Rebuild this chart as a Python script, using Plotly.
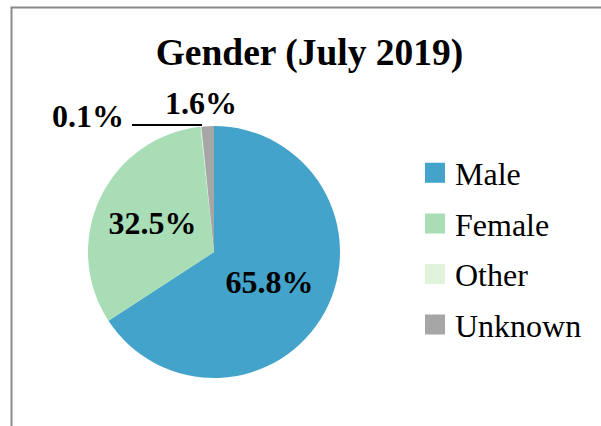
import plotly.graph_objects as go

categories = ["Male", "Female", "Other", "Unknown"]
values = [65.8, 32.5, 0.1, 1.6]
colors = ["#43A3CB", "#A8DDB5", "#E0F3DB", "#A6A6A6"]
title_text = "Gender (July 2019)"

W, H = 601, 426
FONT = "Liberation Serif, Times New Roman, serif"

def px(x):
    return x / W

def py(y):
    return 1 - y / H

inside = [v >= 10 for v in values]
fig = go.Figure()
fig.add_trace(go.Pie(
    labels=categories,
    values=values,
    marker=dict(colors=colors, line=dict(width=0)),
    sort=False,
    direction="clockwise",
    rotation=0,
    texttemplate=["%{value:.1f}%" if ins else "" for ins in inside],
    textposition=["inside" if ins else "none" for ins in inside],
    insidetextorientation="horizontal",
    textfont=dict(family=FONT, size=32, color="black", weight="bold"),
    domain=dict(x=[px(88), px(340)], y=[py(378), py(126)]),
    showlegend=False,
    hoverinfo="label+percent",
))

for cat, col in zip(categories, colors):
    fig.add_trace(go.Scatter(
        x=[None], y=[None], mode="markers", name=cat,
        marker=dict(symbol="square", size=16, color=col, line=dict(color=col, width=4)),
        legendgroup=cat, showlegend=True,
    ))

# labels for the two small slices, placed outside as in the reference
small_pos = {"Other": (87.5, 116, 132, 202, 125), "Unknown": (200.5, 103, None, None, None)}
for cat, v in zip(categories, values):
    if cat in small_pos:
        tx, ty, lx0, lx1, ly = small_pos[cat]
        fig.add_annotation(text=f"{v:.1f}%", x=px(tx), y=py(ty), xref="paper", yref="paper",
                           xanchor="center", yanchor="middle", showarrow=False,
                           font=dict(family=FONT, size=32, color="black", weight="bold"))
        if lx0 is not None:
            fig.add_shape(type="line", xref="paper", yref="paper",
                          x0=px(lx0), x1=px(lx1), y0=py(ly), y1=py(ly),
                          line=dict(color="black", width=2))

fig.add_shape(type="rect", xref="paper", yref="paper",
              x0=px(11.5), x1=1.05, y0=-0.05, y1=py(7.5),
              line=dict(color="#8A8A8A", width=2), fillcolor="rgba(0,0,0,0)")

fig.update_layout(
    width=W, height=H,
    margin=dict(l=0, r=0, t=0, b=0),
    paper_bgcolor="white", plot_bgcolor="white",
    title=dict(text=title_text, x=px(309.5), xanchor="center", y=py(52), yanchor="middle",
               font=dict(family=FONT, size=37.5, color="black", weight="bold")),
    xaxis=dict(visible=False), yaxis=dict(visible=False),
    legend=dict(x=px(415), xanchor="left", y=py(145.5), yanchor="top",
                font=dict(family=FONT, size=32, color="black"),
                traceorder="grouped", tracegroupgap=6, bgcolor="rgba(0,0,0,0)"),
)

fig.write_html("out.html", config={"displayModeBar": False},
               post_script="document.body.style.margin='0';document.body.style.padding='0';")
